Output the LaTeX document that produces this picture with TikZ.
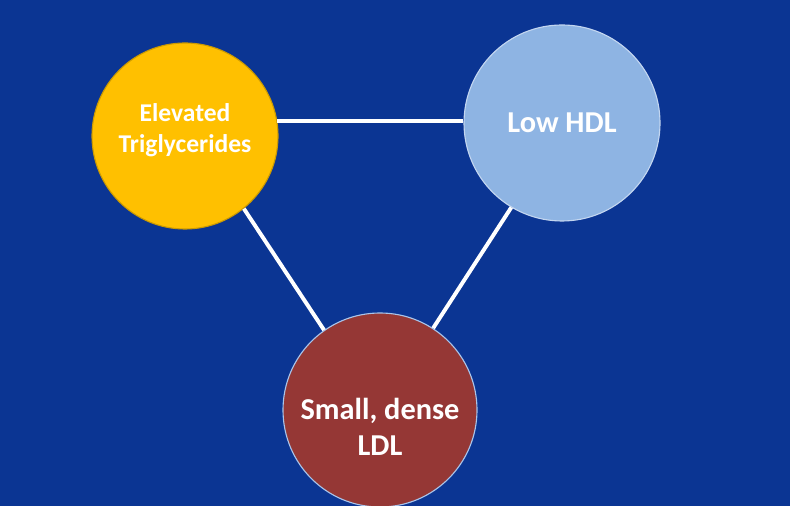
\documentclass[tikz,border=0pt]{standalone}
\usepackage{fontspec}
\setmainfont{Carlito}
\usetikzlibrary{positioning}
\definecolor{bgblue}{HTML}{0B3593}
\definecolor{trigyellow}{HTML}{FFC000}
\definecolor{hdlblue}{HTML}{8EB4E3}
\definecolor{ldlred}{HTML}{953735}
\definecolor{rimblue}{HTML}{A9C4EA}

\begin{document}
\begin{tikzpicture}[
    font=\bfseries,
    blob/.style={circle, draw, line width=0.8pt, inner sep=0pt},
    tag/.style={text=white, align=center, inner sep=0pt},
    link/.style={white, line width=2.8pt},
]

% Background
\fill[bgblue] (0,0) rectangle (19.75,12.65);
\useasboundingbox (0,0) rectangle (19.75,12.65);

% Circles
\node[blob, fill=trigyellow, draw=trigyellow!80!black, minimum size=4.65cm] (trig) at (4.625,9.25) {};
\node[blob, fill=hdlblue, draw=rimblue!70!white, minimum size=4.9cm] (hdl) at (14.05,9.575) {};
\node[blob, fill=ldlred, draw=rimblue, minimum size=4.85cm] (ldl) at (9.5,2.4) {};

% Labels
\node[tag, font=\fontsize{18.2}{22}\selectfont\bfseries, yshift=0.15cm] (trigtext) at (trig)
    {Elevated\\Triglycerides};
\node[tag, font=\fontsize{21.6}{26}\selectfont\bfseries] (hdltext) at (hdl) {Low HDL};
\node[tag, font=\fontsize{21.6}{25.5}\selectfont\bfseries, yshift=-0.42cm] (ldltext) at (ldl)
    {Small, dense\\LDL};

% Connectors
\draw[link] (trig.9) -- (trig.9 -| hdl.west);
\draw[link] (trig.-51) -- (ldl.125);
\draw[link] (hdl.-121) -- (ldl.57);

\end{tikzpicture}
\end{document}
